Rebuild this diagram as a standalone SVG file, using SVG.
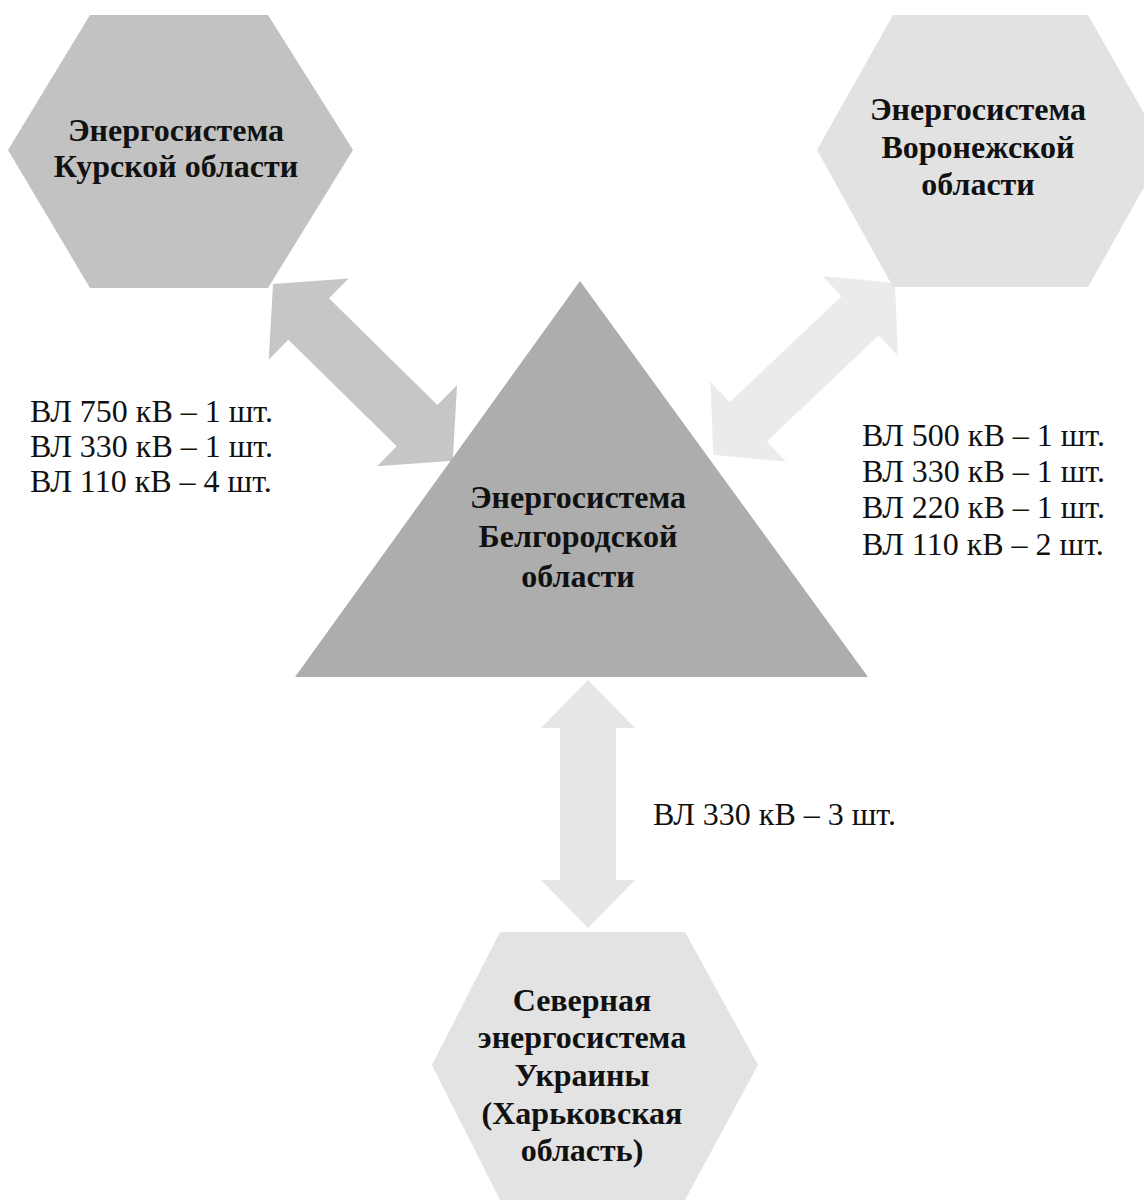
<svg xmlns="http://www.w3.org/2000/svg" width="1144" height="1204" viewBox="0 0 1144 1204">
<style>
.node{font-family:"Liberation Serif","Times New Roman",serif;font-weight:bold;font-size:32px;fill:#111;text-anchor:middle}
.lbl{font-family:"Liberation Serif","Times New Roman",serif;font-size:32px;fill:#111}
</style>
<rect width="1144" height="1204" fill="#ffffff"/>
<g id="connectors">
<path id="arrow-kursk" fill="#c6c6c6" transform="translate(273,284) rotate(44.5)" d="M0,0 L50,-57 L50,-29 L202,-29 L202,-57 L252,0 L202,57 L202,29 L50,29 L50,57 Z"/>
<path id="arrow-voronezh" fill="#ebebeb" transform="translate(895,283) rotate(136.6)" d="M0,0 L48,-55 L48,-27 L202,-27 L202,-55 L250,0 L202,55 L202,27 L48,27 L48,55 Z"/>
<path id="arrow-ukraine" fill="#e6e6e6" transform="translate(588,680) rotate(90)" d="M0,0 L48,-47 L48,-28 L200,-28 L200,-47 L248,0 L200,47 L200,28 L48,28 L48,47 Z"/>
</g>
<g id="node-kursk">
<polygon points="90,15 268,15 353,150 268,288 90,288 8,150" fill="#c2c2c2"/>
<text class="node" x="176" y="141">Энергосистема</text>
<text class="node" x="176" y="177">Курской области</text>
</g>
<g id="node-voronezh">
<polygon points="893,15 1088,15 1165,150 1088,287 893,287 817,150" fill="#e2e2e2"/>
<text class="node" x="978" y="120">Энергосистема</text>
<text class="node" x="978" y="158">Воронежской</text>
<text class="node" x="978" y="195">области</text>
</g>
<g id="node-belgorod">
<polygon points="580,281 868,677 295,677" fill="#adadad"/>
<text class="node" x="578" y="508">Энергосистема</text>
<text class="node" x="578" y="547">Белгородской</text>
<text class="node" x="578" y="587">области</text>
</g>
<g id="node-ukraine">
<polygon points="500,932 685,932 758,1065 685,1200 500,1200 432,1065" fill="#e3e3e3"/>
<text class="node" x="582" y="1011">Северная</text>
<text class="node" x="582" y="1048">энергосистема</text>
<text class="node" x="582" y="1086">Украины</text>
<text class="node" x="582" y="1124">(Харьковская</text>
<text class="node" x="582" y="1161">область)</text>
</g>
<g id="labels">
<text class="lbl" x="30" y="422">ВЛ 750 кВ – 1 шт.</text>
<text class="lbl" x="30" y="457">ВЛ 330 кВ – 1 шт.</text>
<text class="lbl" x="30" y="492">ВЛ 110 кВ – 4 шт.</text>
<text class="lbl" x="862" y="446">ВЛ 500 кВ – 1 шт.</text>
<text class="lbl" x="862" y="482">ВЛ 330 кВ – 1 шт.</text>
<text class="lbl" x="862" y="518">ВЛ 220 кВ – 1 шт.</text>
<text class="lbl" x="862" y="555">ВЛ 110 кВ – 2 шт.</text>
<text class="lbl" x="653" y="825">ВЛ 330 кВ – 3 шт.</text>
</g>
</svg>
